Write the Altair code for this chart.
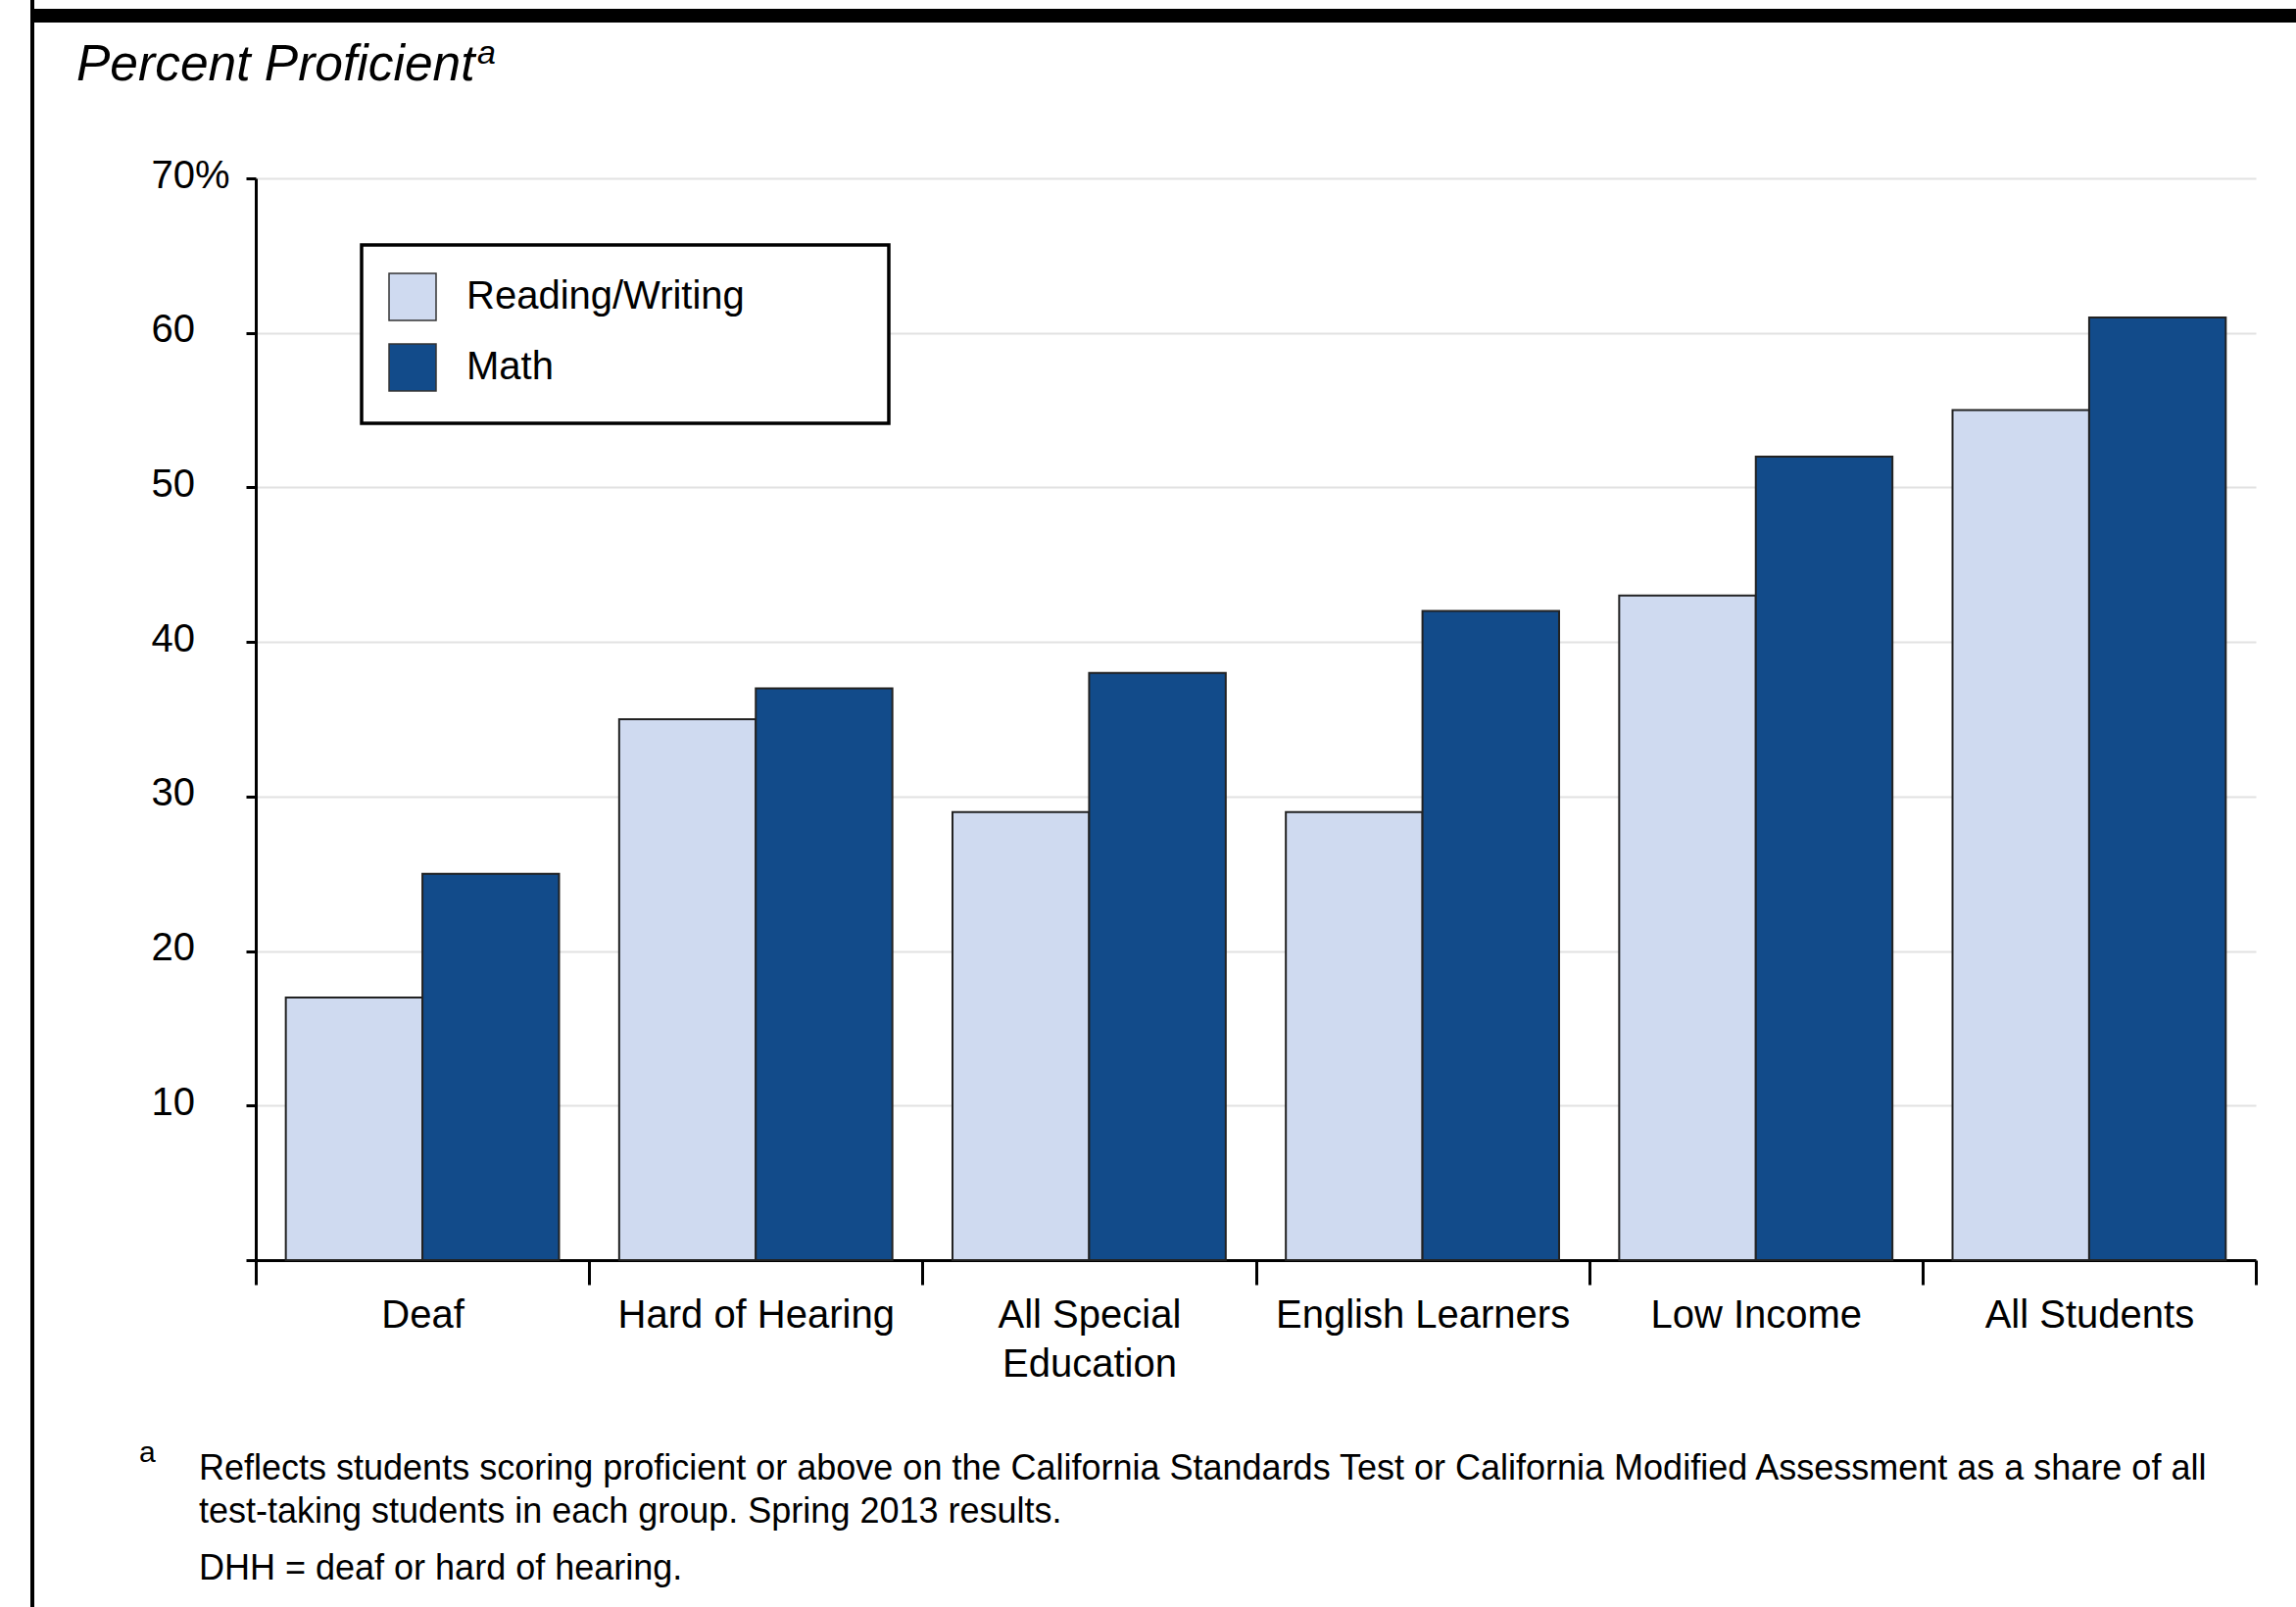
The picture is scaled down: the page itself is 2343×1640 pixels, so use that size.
import altair as alt
import pandas as pd

# ---- data -------------------------------------------------------------
groups = ["Deaf", "Hard of Hearing", "All Special Education",
          "English Learners", "Low Income", "All Students"]
subjects = ["Reading/Writing", "Math"]
reading_pct = [17, 35, 29, 29, 43, 55]
math_pct = [25, 37, 38, 42, 52, 61]
y_ticks = [0, 10, 20, 30, 40, 50, 60, 70]
subject_colors = ["#CFDAF0", "#124B8A"]

title_text = "Percent Proficient"
note_marker = "a"
note_lines = [
    "Reflects students scoring proficient or above on the California Standards Test or California Modified Assessment as a share of all",
    "test-taking students in each group. Spring 2013 results.",
]
abbrev_note = "DHH = deaf or hard of hearing."

rows = []
for g, r, m in zip(groups, reading_pct, math_pct):
    rows.append({"group": g, "subject": subjects[0], "pct": r})
    rows.append({"group": g, "subject": subjects[1], "pct": m})
df = pd.DataFrame(rows)

# ---- layout -----------------------------------------------------------
W, H = 2041, 1104
LEFT, TOP = 261, 182
TOTAL_W, TOTAL_H = 2343, 1640
FONT = "Liberation Sans"

one_row = alt.Data(values=[{"k": 1}])


def text_mark(text, x, y, size, italic=False):
    return alt.Chart(alt.Data(values=[{"t": text}])).mark_text(
        align="left", baseline="alphabetic", fontSize=size, font=FONT,
        fontStyle="italic" if italic else "normal", color="black",
    ).encode(x=alt.value(x), y=alt.value(y), text="t:N")


# page frame: heavy rule across the top, thin rule down the left
top_rule = alt.Chart(one_row).mark_rule(color="black", strokeWidth=14, strokeCap="butt").encode(
    x=alt.value(-230), x2=alt.value(TOTAL_W - LEFT), y=alt.value(-166)
)
left_rule = alt.Chart(one_row).mark_rule(color="black", strokeWidth=4, strokeCap="butt").encode(
    x=alt.value(-228), y=alt.value(-TOP), y2=alt.value(TOTAL_H - TOP)
)

# white box framing the legend
legend_box = alt.Chart(one_row).mark_rect(fill="white", stroke="black", strokeWidth=3.5).encode(
    x=alt.value(108), x2=alt.value(646), y=alt.value(68), y2=alt.value(250)
)

bars = alt.Chart(df).mark_bar(stroke="#222", strokeWidth=2).encode(
    x=alt.X(
        "group:N", sort=groups,
        scale=alt.Scale(paddingInner=0, paddingOuter=0),
        axis=alt.Axis(
            title=None, labelAngle=0, tickBand="extent", grid=False,
            domainColor="black", domainWidth=3,
            tickColor="black", tickWidth=3, tickSize=25,
            labelFont=FONT, labelFontSize=40, labelColor="black",
            labelPadding=11, labelBaseline="top", labelLineHeight=50,
            labelLimit=0,
            labelExpr="datum.value == 'All Special Education' ? ['All Special', 'Education'] : datum.label",
        ),
    ),
    xOffset=alt.XOffset(
        "subject:N", sort=subjects,
        scale=alt.Scale(paddingInner=0, paddingOuter=0.22),
    ),
    y=alt.Y(
        "pct:Q",
        scale=alt.Scale(domain=[0, 70], nice=False),
        axis=alt.Axis(
            title=None, values=y_ticks,
            grid=True, gridColor="#e2e2e2", gridWidth=2,
            domainColor="black", domainWidth=3,
            tickColor="black", tickWidth=3, tickSize=10,
            labelFont=FONT, labelFontSize=40, labelColor="black",
            labelAlign="left", labelPadding=97, labelBaseline="middle",
            labelOffset=-3,
            labelExpr="datum.value == 70 ? '70%' : (datum.value == 0 ? '' : datum.label)",
        ),
    ),
    color=alt.Color(
        "subject:N", sort=subjects,
        scale=alt.Scale(domain=subjects, range=subject_colors),
        legend=alt.Legend(
            title=None, orient="none", legendX=135, legendY=96,
            symbolType="square", symbolSize=2304,
            symbolStrokeColor="#333", symbolStrokeWidth=1.5, symbolOpacity=1,
            labelFont=FONT, labelFontSize=40, labelColor="black",
            labelOffset=30, labelLimit=0, rowPadding=18, padding=0,
        ),
    ),
)

title = text_mark(title_text, -183, -100, 51.5, italic=True)
title_sup = text_mark(note_marker, 226, -117, 34, italic=True)

note_a = text_mark(note_marker, -119, 1310, 30)
note_1 = text_mark(note_lines[0], -58, 1328, 36)
note_2 = text_mark(note_lines[1], -58, 1372, 36)
note_3 = text_mark(abbrev_note, -58, 1430, 36)

chart = alt.layer(
    top_rule, left_rule, legend_box, bars,
    title, title_sup, note_a, note_1, note_2, note_3,
).properties(
    width=W, height=H,
    autosize=alt.AutoSizeParams(type="none"),
    padding={"left": LEFT, "top": TOP, "right": TOTAL_W - LEFT - W, "bottom": TOTAL_H - TOP - H},
    background="white",
).configure_view(stroke=None)

chart.save("out.html", embed_options={"renderer": "svg", "actions": False})
